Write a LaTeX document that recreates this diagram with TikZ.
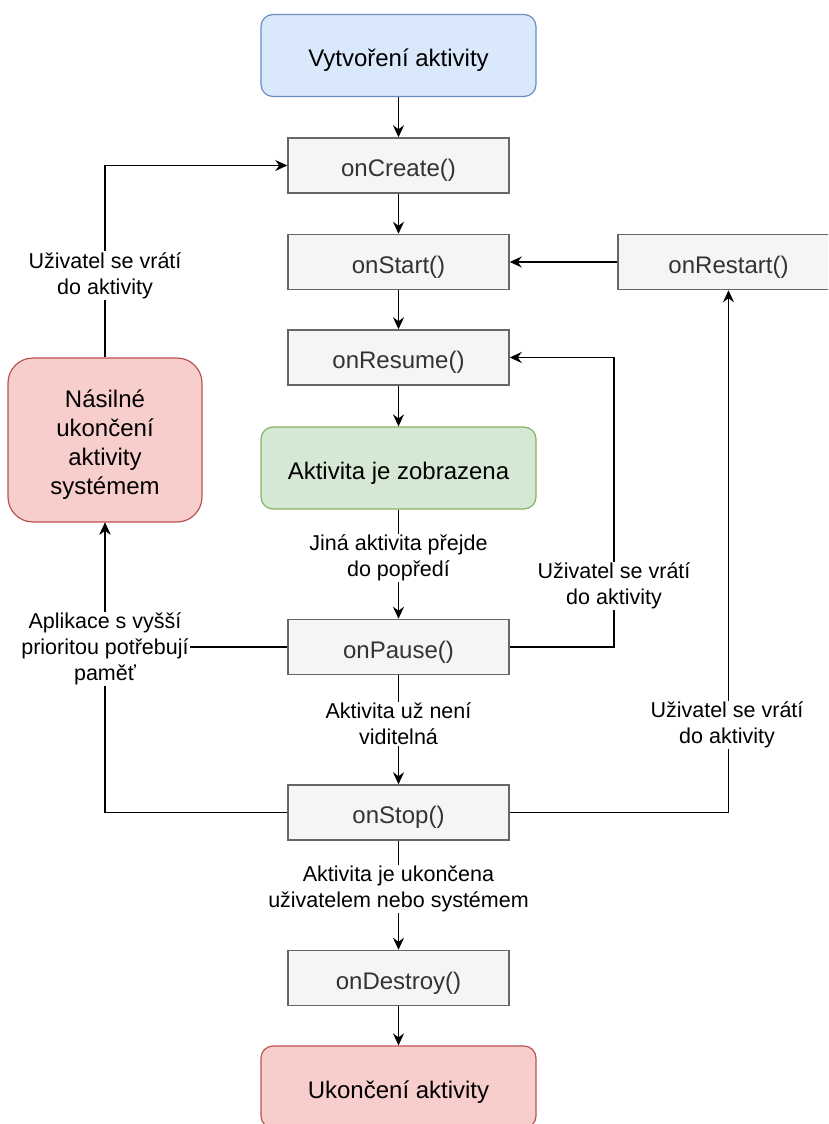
\documentclass[tikz,border=0pt]{standalone}
\usepackage{fontspec}
\setmainfont{Liberation Sans}
\usetikzlibrary{arrows.meta,positioning,calc}
\definecolor{grayfill}{HTML}{F5F5F5}
\definecolor{grayline}{HTML}{666666}
\definecolor{graytext}{HTML}{333333}
\definecolor{bluefill}{HTML}{DAE8FC}
\definecolor{blueline}{HTML}{6C8EBF}
\definecolor{greenfill}{HTML}{D5E8D4}
\definecolor{greenline}{HTML}{82B366}
\definecolor{redfill}{HTML}{F8CECC}
\definecolor{redline}{HTML}{B85450}
\tikzset{
  method/.style={draw=grayline,fill=grayfill,text=graytext,line width=1.5pt,minimum width=221pt,minimum height=55pt,inner sep=0pt,text height=22.5pt,text depth=0pt,font=\fontsize{24}{29}\selectfont},
  state/.style={line width=1.2pt,rounded corners=12pt,minimum width=275pt,minimum height=82pt,inner sep=0pt,text height=22pt,text depth=0pt,font=\fontsize{24}{29}\selectfont},
  lbl/.style={fill=white,align=center,inner sep=1pt,font=\fontsize{21.5}{26}\selectfont},
  midlbl/.style={lbl,yshift=6pt},
  conn/.style={line width=1.5pt,-{Stealth[length=12pt,width=11pt,inset=4pt]}}
}
\begin{document}
\begin{tikzpicture}[x=1pt,y=-1pt]
\useasboundingbox (0,0) rectangle (828,1124);
\clip (0,0) rectangle (828,1124);
\node[state,draw=blueline,fill=bluefill] (create) at (398.5,55.5) {Vytvoření aktivity};
\node[method] (onCreate) at (398.5,165.5) {onCreate()};
\node[method] (onStart) at (398.5,262) {onStart()};
\node[method] (onRestart) at (728.5,262) {onRestart()};
\node[method] (onResume) at (398.5,357.5) {onResume()};
\node[state,draw=greenline,fill=greenfill] (shown) at (398.5,468) {Aktivita je zobrazena};
\node[state,draw=redline,fill=redfill,minimum width=194pt,minimum height=164pt,rounded corners=25pt] (kill) at (105,440) {};
\node[align=center,inner sep=0pt,font=\fontsize{24}{29}\selectfont] (killtext) at (105,444.5) {Násilné\\ukončení\\aktivity\\systémem};
\node[method] (onPause) at (398.5,647) {onPause()};
\node[method] (onStop) at (398.5,812.5) {onStop()};
\node[method] (onDestroy) at (398.5,978) {onDestroy()};
\node[state,draw=redline,fill=redfill] (end) at (398.5,1087) {Ukončení aktivity};

\draw[conn] (create) -- (onCreate);
\draw[conn] (onCreate) -- (onStart);
\draw[conn] (onStart) -- (onResume);
\draw[conn] (onResume) -- (shown);
\draw[conn] (shown) -- node[midlbl]{Jiná aktivita přejde\\do popředí} (onPause);
\draw[conn] (onPause) -- node[midlbl]{Aktivita už není\\viditelná} (onStop);
\draw[conn] (onStop) -- node[midlbl]{Aktivita je ukončena\\uživatelem nebo systémem} (onDestroy);
\draw[conn] (onDestroy) -- (end);
\draw[conn] (onRestart) -- (onStart);

\coordinate (pr) at (614,647);
\draw[conn] (onPause.east) -- (pr) |- (onResume.east);
\node[lbl] (lblResume) at (614,586) {Uživatel se vrátí\\do aktivity};

\draw[conn] (onStop.east) -| (onRestart.south);
\node[lbl] (lblRestart) at (727,725) {Uživatel se vrátí\\do aktivity};

\draw[conn] (onStop.west) -| (kill.south);
\draw[conn] (onPause.west) -| (kill.south);
\node[lbl] (lblKill) at (105,649) {Aplikace s vyšší\\prioritou potřebují\\paměť};

\draw[conn] (kill.north) |- (onCreate.west);
\node[lbl] (lblCreate) at (105,275.5) {Uživatel se vrátí\\do aktivity};
\end{tikzpicture}
\end{document}
